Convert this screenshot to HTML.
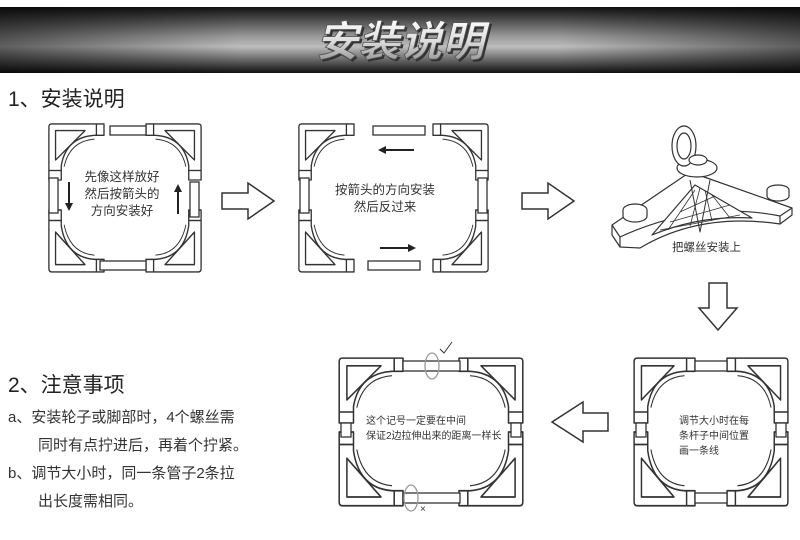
<!DOCTYPE html>
<html><head><meta charset="utf-8"><style>
body{margin:0;background:#fff;}
svg{display:block;}
text{font-family:"Liberation Sans","Noto Sans CJK SC",sans-serif;}
</style></head><body>
<svg width="800" height="540" viewBox="0 0 800 540" xmlns="http://www.w3.org/2000/svg">
<defs>
<linearGradient id="bn" x1="0" y1="0" x2="0" y2="1">
<stop offset="0" stop-color="#111"/><stop offset="0.45" stop-color="#9a9a9a"/><stop offset="0.6" stop-color="#bdbdbd"/><stop offset="1" stop-color="#111"/>
</linearGradient>
<linearGradient id="bh" x1="0" y1="0" x2="1" y2="0">
<stop offset="0" stop-color="#000" stop-opacity=".5"/><stop offset="0.3" stop-color="#000" stop-opacity="0"/><stop offset="0.7" stop-color="#000" stop-opacity="0"/><stop offset="1" stop-color="#000" stop-opacity=".5"/>
</linearGradient>
<linearGradient id="tt" x1="0" y1="0" x2="0" y2="1">
<stop offset="0" stop-color="#fff"/><stop offset="0.5" stop-color="#ddd"/><stop offset="1" stop-color="#888"/>
</linearGradient>
<g id="c" fill="#fff" stroke="#333" stroke-width="1.4" stroke-linejoin="round">
<path d="M2,60 L2,4 Q2,1 5,1 L60,1 L60,13 L50,13 Q20,15 15,45 L15,60 Z"/>
<path d="M9,8 L40,8 L9,39 Z"/>
<path d="M50,17 Q24,19 18,46" fill="none" stroke-width="1"/>
<line x1="52" y1="1" x2="52" y2="13"/><line x1="2" y1="50" x2="15" y2="50"/>
</g>
<g id="ar" fill="#fff" stroke="#333" stroke-width="1.5" stroke-linejoin="miter">
<path d="M0,10 L26,10 L26,0 L52,18 L26,36 L26,26 L0,26 Z"/>
</g>
</defs>

<!-- banner -->
<rect x="0" y="7" width="800" height="66" fill="url(#bn)"/>
<rect x="0" y="7" width="800" height="66" fill="url(#bh)"/>
<text x="402" y="58" font-size="42" font-weight="bold" font-style="italic" fill="#333" text-anchor="middle">安装说明</text>
<text x="400" y="56" font-size="42" font-weight="bold" font-style="italic" fill="url(#tt)" stroke="#555" stroke-width=".8" text-anchor="middle">安装说明</text>

<text x="8" y="106" font-size="21" fill="#222">1、安装说明</text>

<!-- frame 1 -->
<g>
<use href="#c" transform="translate(47,123) scale(.95)"/>
<use href="#c" transform="translate(203,123) scale(-.95,.95)"/>
<use href="#c" transform="translate(47,273) scale(.95,-1.05)"/>
<use href="#c" transform="translate(203,273) scale(-.95,-1.05)"/>
<rect x="110" y="126" width="36" height="9" fill="#fff" stroke="#333" stroke-width="1.3"/>
<rect x="49" y="178" width="9" height="35" fill="#fff" stroke="#333" stroke-width="1.3"/>
<rect x="190" y="182" width="9" height="35" fill="#fff" stroke="#333" stroke-width="1.3"/>
<rect x="100" y="261" width="46" height="9" fill="#fff" stroke="#333" stroke-width="1.3"/>
<text font-size="12.5" fill="#333" text-anchor="middle"><tspan x="122" y="181">先像这样放好</tspan><tspan x="122" y="198">然后按箭头的</tspan><tspan x="122" y="215">方向安装好</tspan></text>
<path d="M69,182 V208" stroke="#222" stroke-width="2"/><path d="M65,203 L69,211 L73,203 Z" fill="#222"/>
<path d="M178,190 V214" stroke="#222" stroke-width="2"/><path d="M174,192 L178,184 L182,192 Z" fill="#222"/>
</g>

<use href="#ar" transform="translate(222,183)"/>

<!-- frame 2 -->
<g>
<use href="#c" transform="translate(297,123) scale(.95)"/>
<use href="#c" transform="translate(490,123) scale(-.95,.95)"/>
<use href="#c" transform="translate(297,273) scale(.95,-1.05)"/>
<use href="#c" transform="translate(490,273) scale(-.95,-1.05)"/>
<rect x="373" y="126" width="52" height="9" fill="#fff" stroke="#333" stroke-width="1.3"/>
<rect x="300" y="178" width="9" height="35" fill="#fff" stroke="#333" stroke-width="1.3"/>
<rect x="478" y="178" width="9" height="35" fill="#fff" stroke="#333" stroke-width="1.3"/>
<rect x="368" y="261" width="52" height="9" fill="#fff" stroke="#333" stroke-width="1.3"/>
<text font-size="12.5" fill="#333" text-anchor="middle"><tspan x="385" y="194">按箭头的方向安装</tspan><tspan x="385" y="211">然后反过来</tspan></text>
<path d="M384,150 H414" stroke="#222" stroke-width="2"/><path d="M386,146 L378,150 L386,154 Z" fill="#222"/>
<path d="M380,248 H410" stroke="#222" stroke-width="2"/><path d="M408,244 L416,248 L408,252 Z" fill="#222"/>
</g>

<use href="#ar" transform="translate(522,183)"/>

<!-- 3D corner -->
<g fill="#fff" stroke="#333" stroke-width="1.2" stroke-linejoin="round">
<path d="M612,225 L690,172 L792,208 L792,215 L780,224 Q700,212 640,248 L620,247 L612,235 Z"/>
<path d="M612,225 L620,237 L620,247 M792,208 L780,216 L780,224 M620,237 Q700,200 780,216" fill="none"/>
<path d="M652,235 L695,185 L752,218 Q700,215 652,235 Z"/>
<path d="M660,230 L740,215 M670,222 L730,205 M680,212 L715,196 M668,230 L695,190 M690,226 L700,188 M712,221 L705,190 M730,218 L712,195" fill="none" stroke-width=".8"/>
<ellipse cx="635" cy="216" rx="12" ry="6"/><path d="M623,216 V210 A12,6 0 0 1 647,210 V216"/>
<ellipse cx="778" cy="196" rx="11" ry="5"/><path d="M767,196 V190 A11,5 0 0 1 789,190 V196"/>
<ellipse cx="697" cy="168" rx="20" ry="9"/>
<ellipse cx="684" cy="146" rx="12" ry="20"/><ellipse cx="684" cy="146" rx="7" ry="13"/>
<ellipse cx="698" cy="160" rx="9" ry="5"/>
<path d="M690,180 L700,232 L710,180" fill="none" stroke-width="1"/>
</g>
<text x="672" y="251" font-size="11.5" fill="#333">把螺丝安装上</text>

<!-- down arrow -->
<path d="M709,283 L727,283 L727,308 L737,308 L718,330 L699,308 L709,308 Z" fill="#fff" stroke="#333" stroke-width="1.5"/>

<text x="8" y="392" font-size="21" fill="#222">2、注意事项</text>
<text font-size="15" fill="#333"><tspan x="8" y="422">a、安装轮子或脚部时，4个螺丝需</tspan><tspan x="38" y="450">同时有点拧进后，再着个拧紧。</tspan><tspan x="8" y="478">b、调节大小时，同一条管子2条拉</tspan><tspan x="38" y="506">出长度需相同。</tspan></text>

<!-- frame 3 -->
<g>
<use href="#c" transform="translate(337,357) scale(1.1)"/>
<use href="#c" transform="translate(525,357) scale(-1.1,1.1)"/>
<use href="#c" transform="translate(337,507) scale(1.1,-1.25)"/>
<use href="#c" transform="translate(525,507) scale(-1.1,-1.25)"/>
<rect x="403" y="361" width="57" height="10" fill="#fff" stroke="#333" stroke-width="1.3"/>
<rect x="341" y="423" width="10" height="14" fill="#fff" stroke="#333" stroke-width="1.3"/>
<rect x="511" y="423" width="10" height="14" fill="#fff" stroke="#333" stroke-width="1.3"/>
<rect x="403" y="493" width="57" height="10" fill="#fff" stroke="#333" stroke-width="1.3"/>
<ellipse cx="432" cy="366" rx="7" ry="13" fill="none" stroke="#999" stroke-width="1.3"/>
<ellipse cx="411" cy="498" rx="7" ry="13" fill="none" stroke="#999" stroke-width="1.3"/>
<path d="M440,349 L444,353 L452,342" fill="none" stroke="#333" stroke-width="1"/>
<text x="420" y="512" font-size="10" fill="#333">×</text>
<text font-size="10" fill="#333"><tspan x="366" y="424">这个记号一定要在中间</tspan><tspan x="366" y="439">保证2边拉伸出来的距离一样长</tspan></text>
</g>

<!-- left arrow -->
<path d="M608,413 L583,413 L583,402 L552,422 L583,442 L583,431 L608,431 Z" fill="#fff" stroke="#333" stroke-width="1.5"/>

<!-- frame 4 -->
<g>
<use href="#c" transform="translate(632,357) scale(1.05,1.1)"/>
<use href="#c" transform="translate(790,357) scale(-1.05,1.1)"/>
<use href="#c" transform="translate(632,507) scale(1.05,-1.25)"/>
<use href="#c" transform="translate(790,507) scale(-1.05,-1.25)"/>
<rect x="695" y="361" width="32" height="10" fill="#fff" stroke="#333" stroke-width="1.3"/>
<rect x="636" y="423" width="10" height="14" fill="#fff" stroke="#333" stroke-width="1.3"/>
<rect x="776" y="423" width="10" height="14" fill="#fff" stroke="#333" stroke-width="1.3"/>
<rect x="695" y="493" width="32" height="10" fill="#fff" stroke="#333" stroke-width="1.3"/>
<text font-size="10" fill="#333"><tspan x="679" y="424">调节大小时在每</tspan><tspan x="679" y="439">条杆子中间位置</tspan><tspan x="679" y="454">画一条线</tspan></text>
</g>
</svg>
</body></html>
